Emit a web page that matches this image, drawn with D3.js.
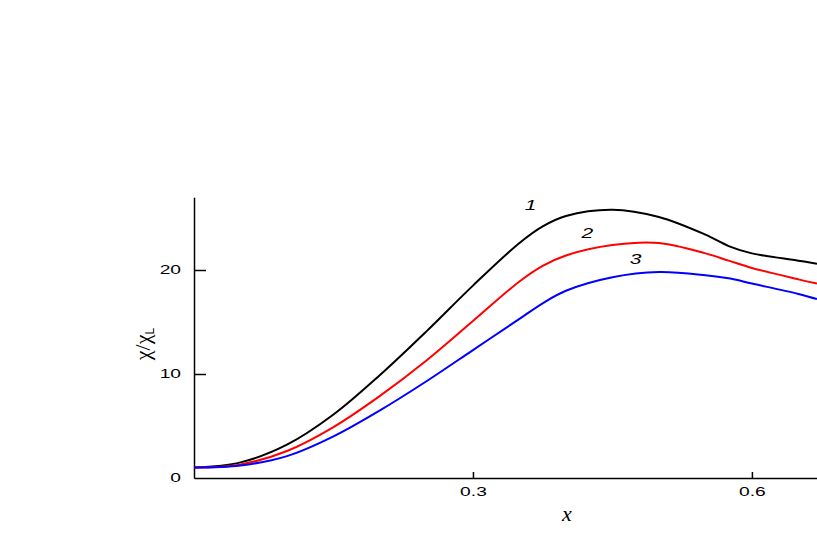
<html>
<head>
<meta charset="utf-8">
<title>chi / chi_L</title>
<script src="https://d3js.org/d3.v7.min.js"></script>
<style>
  body { margin: 0; background: #fff; }
  .axis path, .axis line { stroke: #000; stroke-width: 1.5px; }
  .axis text { font-family: "Liberation Sans", Arial, sans-serif; font-size: 12px; fill: #000; }
</style>
</head>
<body>
<div id="chart"></div>
<script>
// données
let xs     = [0, 0.05, 0.1, 0.15, 0.2, 0.25, 0.3, 0.35, 0.375, 0.4, 0.45, 0.5, 0.55, 0.575, 0.6, 0.65, 0.67];
let curve1 = [1.0, 1.5, 3.2, 6.1, 9.9, 14.1, 18.5, 22.6, 24.2, 25.2, 25.8, 25.1, 23.4, 22.3, 21.6, 20.9, 20.6];
let curve2 = [1.0, 1.3, 2.6, 4.9, 7.9, 11.3, 15.1, 18.9, 20.4, 21.4, 22.4, 22.6, 21.6, 20.9, 20.2, 19.1, 18.7];
let curve3 = [1.0, 1.2, 2.1, 4.0, 6.5, 9.3, 12.3, 15.3, 16.8, 18.0, 19.3, 19.8, 19.5, 19.2, 18.7, 17.7, 17.2];
let xTicks = [0.3, 0.6];
let yTicks = [0, 10, 20];
let series = [
  { name: "1", values: curve1, color: "#000000", lx: 0.362, ly: 25.8 },
  { name: "2", values: curve2, color: "#ff0000", lx: 0.423, ly: 23.1 },
  { name: "3", values: curve3, color: "#0000ff", lx: 0.475, ly: 20.6 }
];

let w = 817, h = 545;

let svg = d3.select("#chart").append("svg")
    .attr("width", w)
    .attr("height", h);

let xScale = d3.scaleLinear().domain([0, 0.67]).range([194, 817]);
let yScale = d3.scaleLinear().domain([0, 27]).range([478, 197.2]);

// axes (graduations vers l'intérieur)
let xAxis = d3.axisBottom(xScale)
    .tickValues(xTicks)
    .tickFormat(d3.format(".1f"))
    .tickSizeInner(-6)
    .tickSizeOuter(0)
    .tickPadding(9);

let yAxis = d3.axisLeft(yScale)
    .tickValues(yTicks)
    .tickFormat(d3.format("d"))
    .tickSizeInner(-12)
    .tickSizeOuter(0)
    .tickPadding(13);

svg.append("g")
    .attr("class", "x axis")
    .attr("transform", "translate(0," + yScale(0) + ")")
    .call(xAxis);

svg.append("g")
    .attr("class", "y axis")
    .attr("transform", "translate(" + xScale(0) + ",0)")
    .call(yAxis);

svg.select(".y.axis").selectAll(".tick").filter(d => d === 0).select("line").remove();

// police large : on étire les étiquettes
svg.selectAll(".axis text").each(function() {
  let len = this.getComputedTextLength();
  d3.select(this).attr("textLength", len * 1.6).attr("lengthAdjust", "spacingAndGlyphs");
});

// courbes
let line = d3.line()
    .x((d, i) => xScale(xs[i]))
    .y(d => yScale(d))
    .curve(d3.curveCatmullRom.alpha(0.5));

svg.selectAll("path.curve")
    .data(series).enter()
    .append("path")
    .attr("class", "curve")
    .attr("d", d => line(d.values))
    .attr("fill", "none")
    .attr("stroke", d => d.color)
    .attr("stroke-width", 2);

// numéros des courbes
svg.selectAll("text.num")
    .data(series).enter()
    .append("text")
    .attr("class", "num")
    .attr("x", d => xScale(d.lx))
    .attr("y", d => yScale(d.ly))
    .attr("text-anchor", "middle")
    .style("font-family", "Liberation Sans, Arial, sans-serif")
    .style("font-style", "italic")
    .style("font-size", "14px")
    .text(d => d.name)
    .each(function() {
      let len = this.getComputedTextLength();
      d3.select(this).attr("textLength", len * 1.5).attr("lengthAdjust", "spacingAndGlyphs");
    });

// titres des axes
svg.append("text")
    .attr("x", 567)
    .attr("y", 521)
    .attr("text-anchor", "middle")
    .style("font-family", "Liberation Serif, serif")
    .style("font-style", "italic")
    .style("font-size", "22px")
    .text("x");

let ylab = svg.append("text")
    .attr("transform", "translate(150,344) rotate(-90)")
    .attr("text-anchor", "middle")
    .style("font-family", "Liberation Serif, serif")
    .style("font-size", "22px");
ylab.append("tspan").text("χ/χ");
ylab.append("tspan").attr("dy", 4).style("font-size", "12px")
    .style("font-family", "Liberation Sans, Arial, sans-serif").text("L");
</script>
</body>
</html>
